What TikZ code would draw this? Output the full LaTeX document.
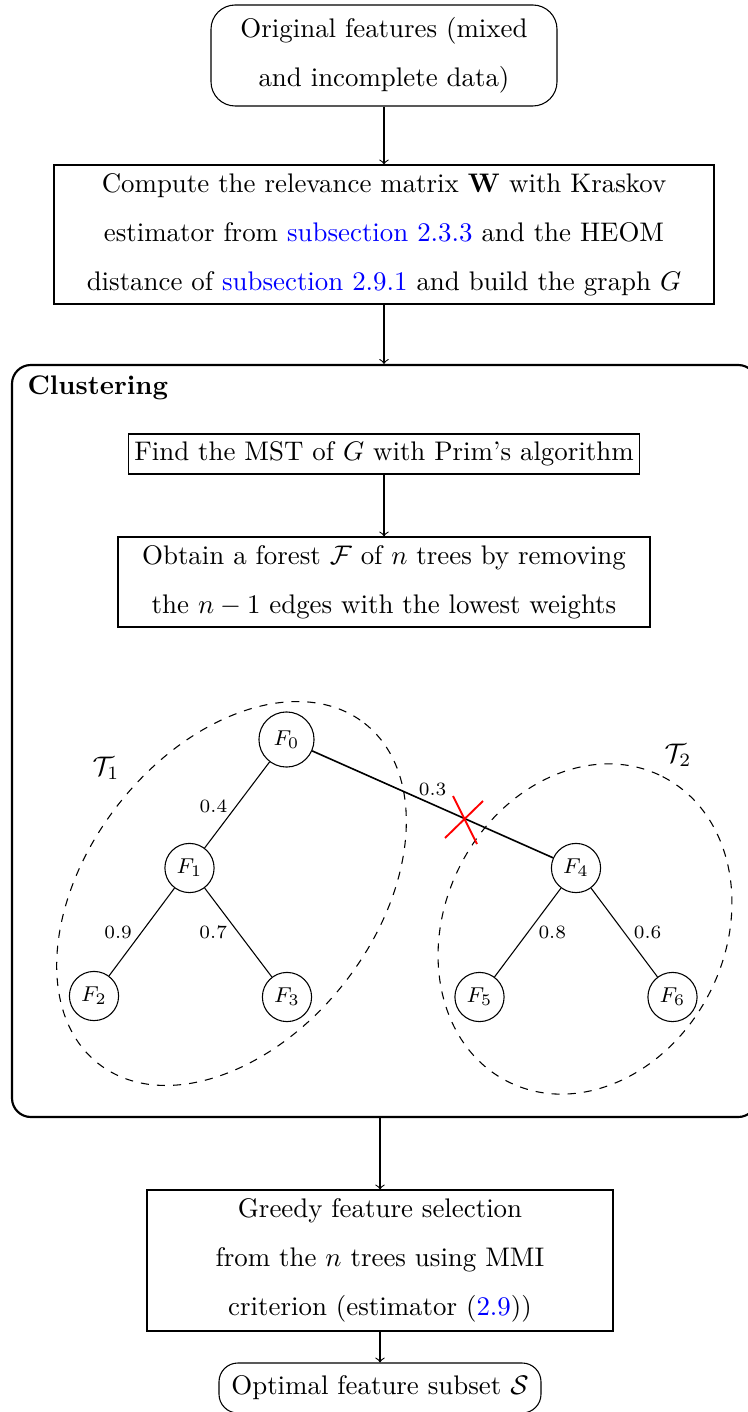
\documentclass[tikz,border=0pt]{standalone}
\usepackage{amsmath,amssymb}
\usepackage{xcolor}
\usetikzlibrary{positioning,calc,backgrounds,shapes.geometric,arrows}
\pgfdeclarelayer{edgelayer}
\pgfdeclarelayer{nodelayer}
\pgfsetlayers{background,edgelayer,nodelayer,main}
\newcommand{\upx}{0.372pt}
\newcommand{\lnk}[1]{\textcolor{blue}{#1}}
\tikzstyle{none}=[inner sep=0mm]
\tikzstyle{txt}=[align=center,inner sep=0pt,font=\fontsize{10}{18.3}\selectfont]
\tikzstyle{rbox}=[txt,draw,rounded corners=7pt]
\tikzstyle{sbox}=[txt,draw]
\tikzstyle{flow}=[->]
\tikzstyle{fn}=[circle,draw,fill=white,minimum size=18.3pt,inner sep=0pt,font=\footnotesize]
\tikzstyle{wt}=[inner sep=0pt,font=\scriptsize]
\tikzstyle{tree}=[dashed]

\begin{document}
\begin{tikzpicture}[x=\upx,y=-\upx]
	\useasboundingbox (0,0) rectangle (747,1412);
	\begin{pgfonlayer}{nodelayer}
		\node [style=rbox,rounded corners=9pt,minimum width=346*\upx,minimum height=101*\upx] (orig) at (384,55.5) {Original features (mixed\\and incomplete data)};
		\node [style=sbox,minimum width=660*\upx,minimum height=139*\upx] (comp) at (384,234.5) {Compute the relevance matrix $\mathbf{W}$ with Kraskov\\estimator from \lnk{subsection 2.3.3} and the HEOM\\distance of \lnk{subsection 2.9.1} and build the graph $G$};
		\node [draw,thick,rounded corners=7pt,minimum width=745*\upx,minimum height=752*\upx] (clust) at (384.5,741) {};
		\node [none,anchor=west,font=\bfseries] (ctitle) at (27,388) {Clustering};
		\node [style=sbox,minimum width=511*\upx,minimum height=40*\upx] (mst) at (384,454) {Find the MST of $G$ with Prim's algorithm};
		\node [style=sbox,minimum width=532*\upx,minimum height=90*\upx] (forest) at (384,582) {Obtain a forest $\mathcal{F}$ of $n$ trees by removing\\the $n-1$ edges with the lowest weights};
		\node [style=sbox,minimum width=466*\upx,minimum height=141*\upx] (greedy) at (380,1260.5) {Greedy feature selection\\from the $n$ trees using MMI\\criterion (estimator (\lnk{2.9}))};
		\node [style=rbox,minimum width=322*\upx,minimum height=50*\upx] (opt) at (380,1388) {Optimal feature subset $\mathcal{S}$};
		% tree
		\node [style=fn,minimum size=20.5pt] (f0) at (286.5,739.5) {$F_0$};
		\node [style=fn] (f1) at (189.5,868) {$F_1$};
		\node [style=fn] (f2) at (94,996) {$F_2$};
		\node [style=fn] (f3) at (287,997) {$F_3$};
		\node [style=fn] (f4) at (576,868) {$F_4$};
		\node [style=fn] (f5) at (479.5,997) {$F_5$};
		\node [style=fn] (f6) at (672.5,997) {$F_6$};
		\node [style=none] (t1) at (106,768) {$\mathcal{T}_1$};
		\node [style=none] (t2) at (678,755) {$\mathcal{T}_2$};
		\coordinate (cut) at (464,819);
	\end{pgfonlayer}
	\begin{pgfonlayer}{edgelayer}
		\draw[flow] (orig) -- (comp);
		\draw[flow] (comp) -- (clust.north -| comp.south);
		\draw[flow] (mst) -- (forest);
		\draw[flow] (clust.south -| greedy.north) -- (greedy);
		\draw[flow] (greedy) -- (opt);
		\draw (f0) -- node[wt,pos=0.52,left=3pt] {0.4} (f1);
		\draw (f1) -- node[wt,pos=0.5,left=3.5pt] {0.9} (f2);
		\draw (f1) -- node[wt,pos=0.5,left=4pt] {0.7} (f3);
		\draw[semithick] (f0) -- node[wt,pos=0.5,above=3pt] {0.3} (f4);
		\draw (f4) -- node[wt,pos=0.5,right=3.8pt] {0.8} (f5);
		\draw (f4) -- node[wt,pos=0.5,right=3.4pt] {0.6} (f6);
		\draw[tree,rotate around={52:(231.5,893.5)}] (231.5,893.5) ellipse [x radius=216,y radius=144];
		\draw[tree,rotate around={63:(585,929)}] (585,929) ellipse [x radius=171,y radius=140];
		\draw[red,line width=0.7pt] ($(cut)+(-19,19)$) -- ($(cut)+(19,-18)$);
		\draw[red,line width=0.7pt] ($(cut)+(-11,-23)$) -- ($(cut)+(13,25)$);
	\end{pgfonlayer}
\end{tikzpicture}
\end{document}
